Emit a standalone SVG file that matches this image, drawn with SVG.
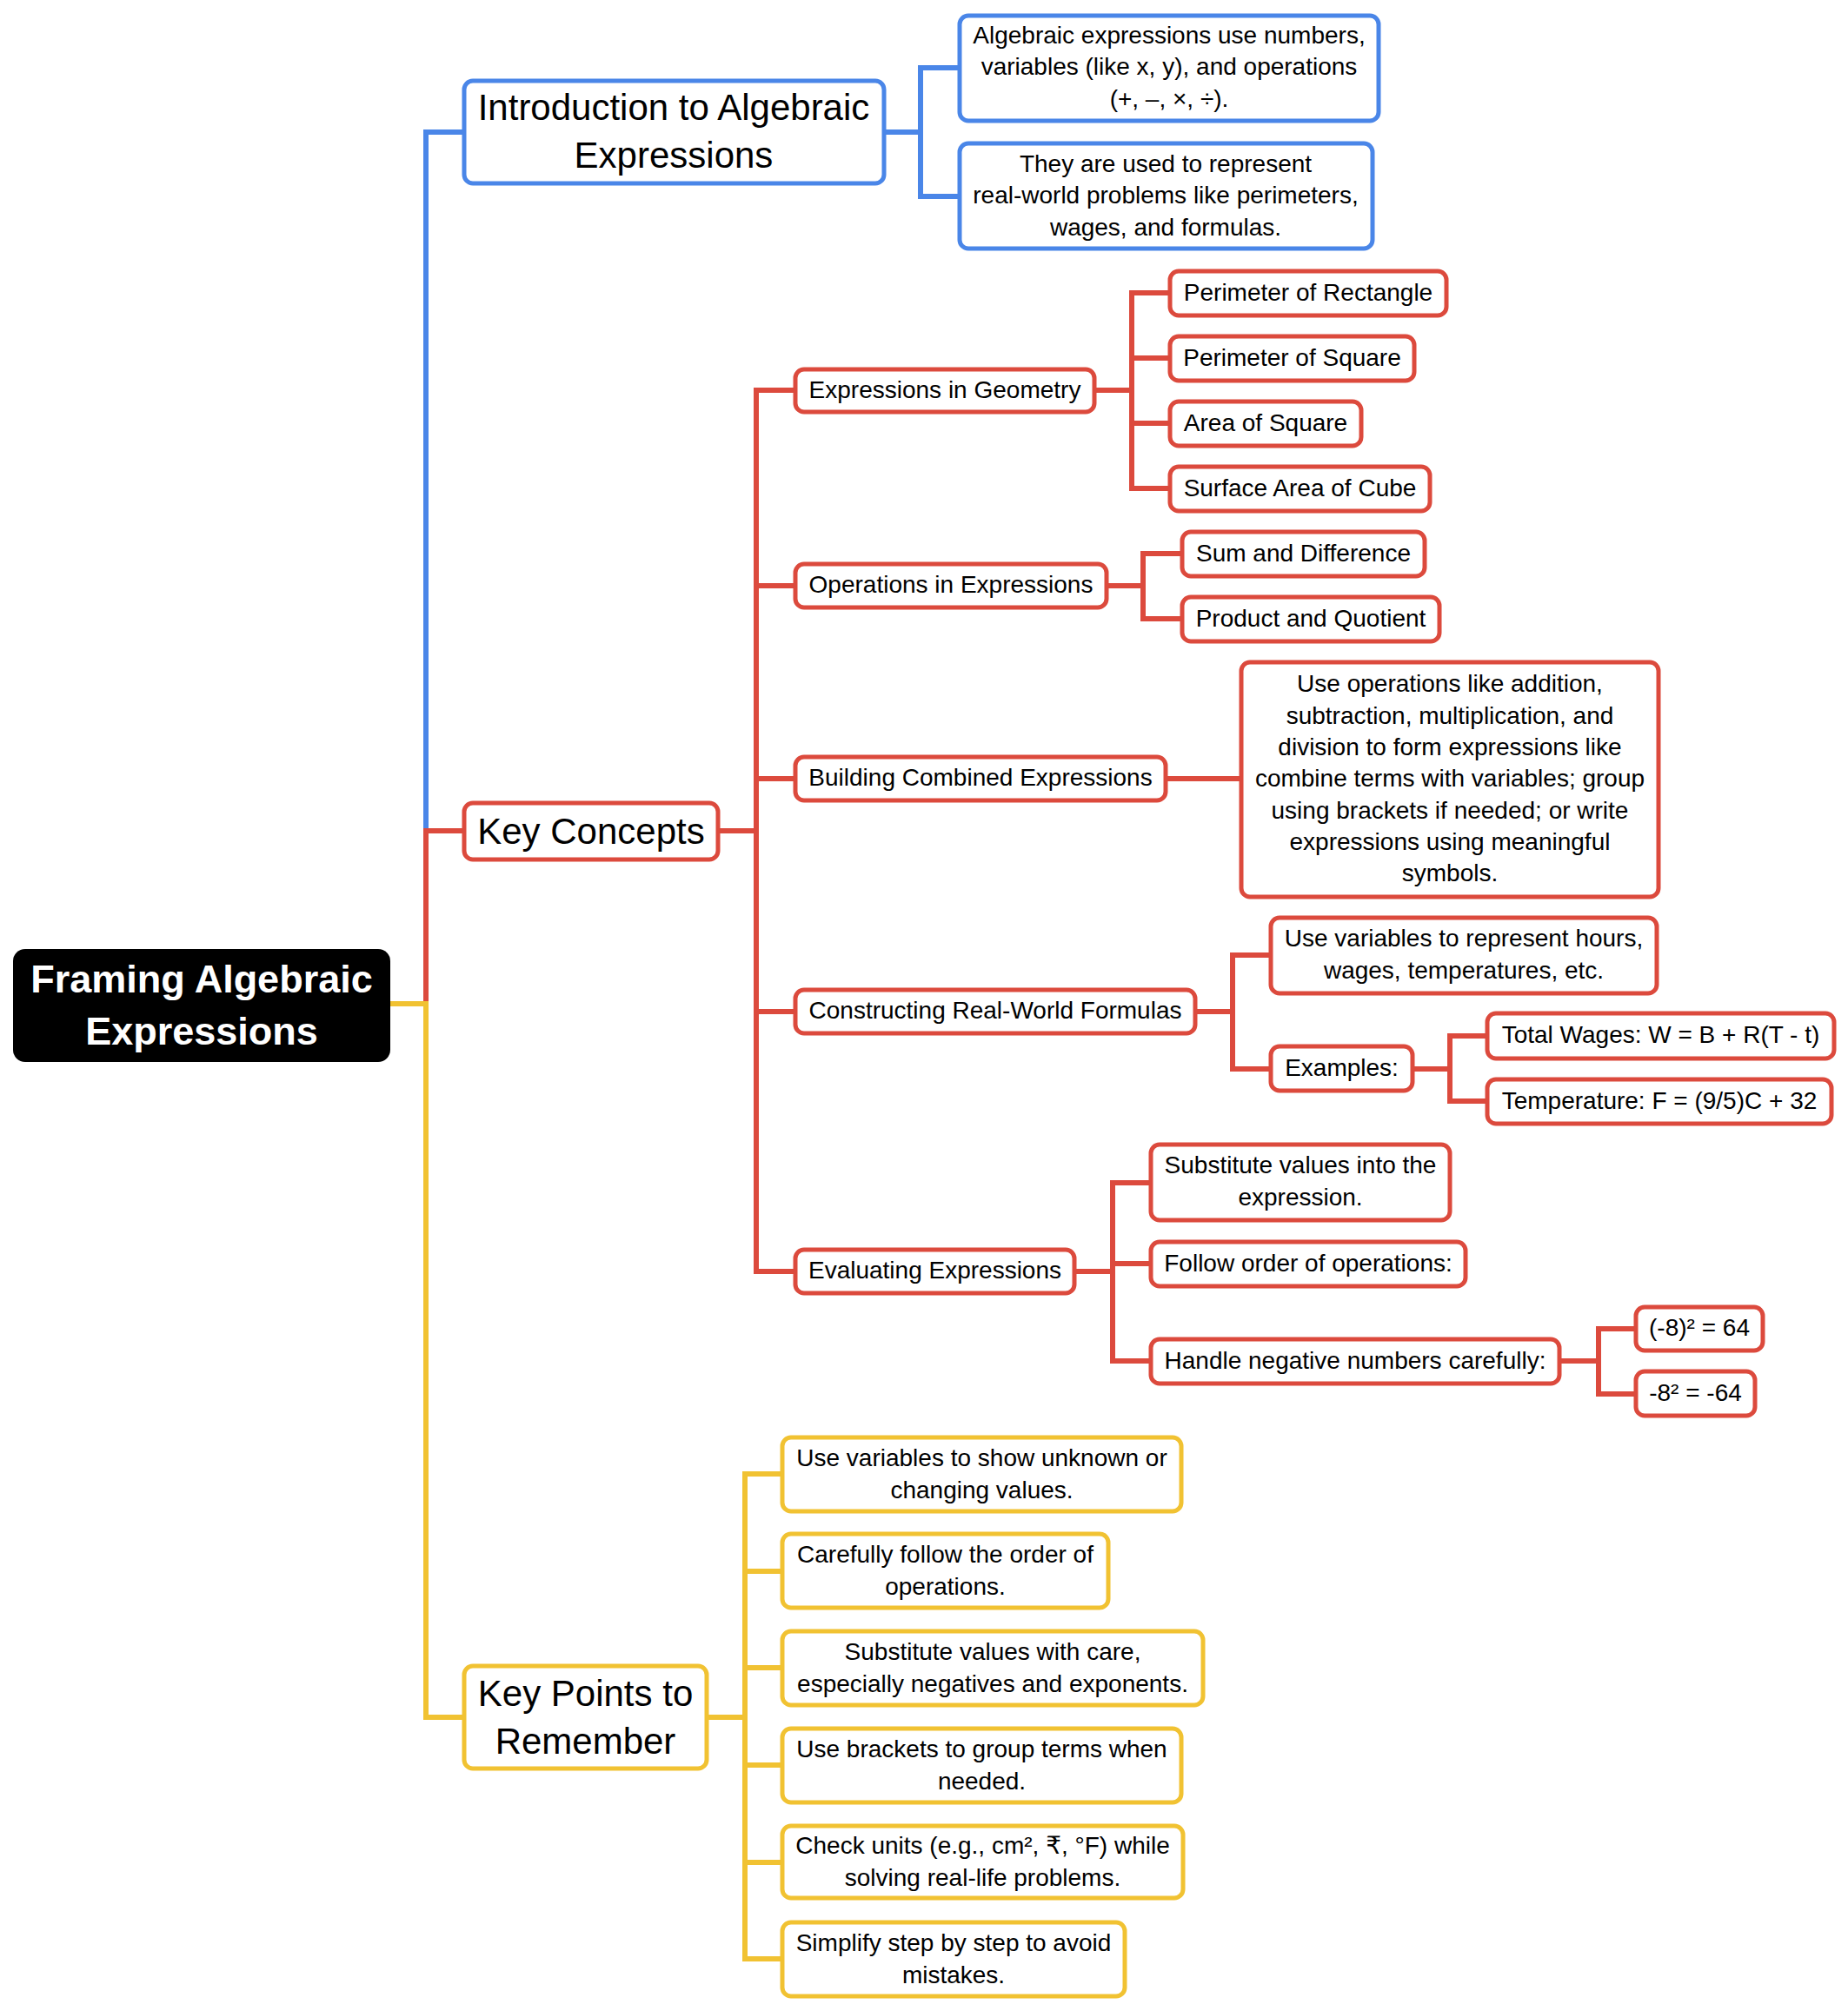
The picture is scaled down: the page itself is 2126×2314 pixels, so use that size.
<svg xmlns="http://www.w3.org/2000/svg" width="2126" height="2314" viewBox="0 0 2126 2314">
<style>
text{font-family:"Liberation Sans",Arial,"DejaVu Sans",sans-serif;fill:#000;text-anchor:middle}
.t{font-size:28px}
.h{font-size:42px}
.r{font-size:45px;font-weight:bold;fill:#fff}
.nb{fill:#fff;stroke:#4a86e8;stroke-width:5}
.nr{fill:#fff;stroke:#dc4a3d;stroke-width:5}
.ny{fill:#fff;stroke:#f1c232;stroke-width:5}
.cb{fill:none;stroke:#4a86e8;stroke-width:6}
.cr{fill:none;stroke:#dc4a3d;stroke-width:6}
.cy{fill:none;stroke:#f1c232;stroke-width:6}
</style>
<rect width="2126" height="2314" fill="#fff"/>
<g id="connectors">
<path class="cb" d="M449,1155 H490 V152 H534"/>
<path class="cr" d="M449,1155 H490 V956 H534"/>
<path class="cy" d="M449,1155 H490 V1976 H534"/>
<path class="cb" d="M1017,152 H1059 V78 H1104 M1059,152 V226 H1104"/>
<path class="cr" d="M826,956 H870 V449 H915 M870,674 H915 M870,896 H915 M870,956 V1463 H915 M870,1164 H915"/>
<path class="cr" d="M1259,449 H1302 V337 H1346 M1302,412 H1346 M1302,487 H1346 M1302,449 V562 H1346"/>
<path class="cr" d="M1273,674 H1315 V637 H1360 M1315,674 V712 H1360"/>
<path class="cr" d="M1341,896 H1428"/>
<path class="cr" d="M1375,1164 H1418 V1099 H1462 M1418,1164 V1230 H1462"/>
<path class="cr" d="M1625,1230 H1668 V1192 H1711 M1668,1230 V1267 H1711"/>
<path class="cr" d="M1236,1463 H1280 V1361 H1324 M1280,1454 H1324 M1280,1463 V1566 H1324"/>
<path class="cr" d="M1794,1566 H1839 V1529 H1882 M1839,1566 V1604 H1882"/>
<path class="cy" d="M813,1976 H857 V1696 H900 M857,1808 H900 M857,1919 H900 M857,1976 V2254 H900 M857,2031 H900 M857,2143 H900"/>
</g>
<g id="root">
<rect x="15" y="1092" width="434" height="130" rx="14" fill="#000"/>
<text class="r" x="232" y="1142">Framing Algebraic</text>
<text class="r" x="232" y="1202">Expressions</text>
</g>
<g id="intro">
<rect class="nb" x="534" y="93" width="483" height="118" rx="10"/>
<text class="h" x="775" y="138">Introduction to Algebraic</text>
<text class="h" x="775" y="193">Expressions</text>
</g>
<g id="intro-1">
<rect class="nb" x="1104" y="18" width="482" height="121" rx="10"/>
<text class="t" x="1345" y="50">Algebraic expressions use numbers,</text>
<text class="t" x="1345" y="86">variables (like x, y), and operations</text>
<text class="t" x="1345" y="122.5">(+, –, ×, ÷).</text>
</g>
<g id="intro-2">
<rect class="nb" x="1104" y="165" width="475" height="121" rx="10"/>
<text class="t" x="1341" y="197.5">They are used to represent</text>
<text class="t" x="1341" y="234">real-world problems like perimeters,</text>
<text class="t" x="1341" y="270.5">wages, and formulas.</text>
</g>
<g id="key-concepts">
<rect class="nr" x="534" y="924" width="292" height="65" rx="10"/>
<text class="h" x="680" y="970.5">Key Concepts</text>
</g>
<g id="geometry">
<rect class="nr" x="915" y="425" width="344" height="49" rx="10"/>
<text class="t" x="1087" y="457.5">Expressions in Geometry</text>
</g>
<g id="perimeter-rectangle">
<rect class="nr" x="1346" y="312" width="318" height="51" rx="10"/>
<text class="t" x="1505" y="345.5">Perimeter of Rectangle</text>
</g>
<g id="perimeter-square">
<rect class="nr" x="1346" y="387" width="281" height="51" rx="10"/>
<text class="t" x="1486.5" y="420.5">Perimeter of Square</text>
</g>
<g id="area-square">
<rect class="nr" x="1346" y="462" width="220" height="51" rx="10"/>
<text class="t" x="1456" y="495.5">Area of Square</text>
</g>
<g id="surface-cube">
<rect class="nr" x="1346" y="537" width="299" height="51" rx="10"/>
<text class="t" x="1495.5" y="570.5">Surface Area of Cube</text>
</g>
<g id="operations">
<rect class="nr" x="915" y="649" width="358" height="50" rx="10"/>
<text class="t" x="1094" y="682">Operations in Expressions</text>
</g>
<g id="sum-difference">
<rect class="nr" x="1360" y="612" width="279" height="51" rx="10"/>
<text class="t" x="1499.5" y="645.5">Sum and Difference</text>
</g>
<g id="product-quotient">
<rect class="nr" x="1360" y="687" width="296" height="51" rx="10"/>
<text class="t" x="1508" y="720.5">Product and Quotient</text>
</g>
<g id="building">
<rect class="nr" x="915" y="871" width="426" height="50" rx="10"/>
<text class="t" x="1128" y="904">Building Combined Expressions</text>
</g>
<g id="building-desc">
<rect class="nr" x="1428" y="762" width="480" height="270" rx="10"/>
<text class="t" x="1668" y="796">Use operations like addition,</text>
<text class="t" x="1668" y="832.5">subtraction, multiplication, and</text>
<text class="t" x="1668" y="869">division to form expressions like</text>
<text class="t" x="1668" y="905">combine terms with variables; group</text>
<text class="t" x="1668" y="941.5">using brackets if needed; or write</text>
<text class="t" x="1668" y="978">expressions using meaningful</text>
<text class="t" x="1668" y="1014">symbols.</text>
</g>
<g id="constructing">
<rect class="nr" x="915" y="1139" width="460" height="50" rx="10"/>
<text class="t" x="1145" y="1172">Constructing Real-World Formulas</text>
</g>
<g id="use-variables">
<rect class="nr" x="1462" y="1056" width="444" height="87" rx="10"/>
<text class="t" x="1684" y="1089">Use variables to represent hours,</text>
<text class="t" x="1684" y="1126">wages, temperatures, etc.</text>
</g>
<g id="examples">
<rect class="nr" x="1462" y="1204" width="163" height="51" rx="10"/>
<text class="t" x="1543.5" y="1237.5">Examples:</text>
</g>
<g id="total-wages">
<rect class="nr" x="1711" y="1166" width="399" height="52" rx="10"/>
<text class="t" x="1910.5" y="1200">Total Wages: W = B + R(T - t)</text>
</g>
<g id="temperature">
<rect class="nr" x="1711" y="1242" width="396" height="51" rx="10"/>
<text class="t" x="1909" y="1275.5">Temperature: F = (9/5)C + 32</text>
</g>
<g id="evaluating">
<rect class="nr" x="915" y="1438" width="321" height="50" rx="10"/>
<text class="t" x="1075.5" y="1471">Evaluating Expressions</text>
</g>
<g id="substitute">
<rect class="nr" x="1324" y="1317" width="344" height="87" rx="10"/>
<text class="t" x="1496" y="1350">Substitute values into the</text>
<text class="t" x="1496" y="1387">expression.</text>
</g>
<g id="follow-order">
<rect class="nr" x="1324" y="1429" width="362" height="51" rx="10"/>
<text class="t" x="1505" y="1462.5">Follow order of operations:</text>
</g>
<g id="handle-negative">
<rect class="nr" x="1324" y="1541" width="470" height="51" rx="10"/>
<text class="t" x="1559" y="1574.5">Handle negative numbers carefully:</text>
</g>
<g id="neg8-squared">
<rect class="nr" x="1882" y="1504" width="146" height="50" rx="10"/>
<text class="t" x="1955" y="1537">(-8)² = 64</text>
</g>
<g id="minus-8-squared">
<rect class="nr" x="1882" y="1578" width="137" height="51" rx="10"/>
<text class="t" x="1950.5" y="1611.5">-8² = -64</text>
</g>
<g id="key-points">
<rect class="ny" x="534" y="1917" width="279" height="118" rx="10"/>
<text class="h" x="673.5" y="1962.5">Key Points to</text>
<text class="h" x="673.5" y="2017.5">Remember</text>
</g>
<g id="kp-1">
<rect class="ny" x="900" y="1654" width="459" height="85" rx="10"/>
<text class="t" x="1129.5" y="1687">Use variables to show unknown or</text>
<text class="t" x="1129.5" y="1724">changing values.</text>
</g>
<g id="kp-2">
<rect class="ny" x="900" y="1765" width="375" height="85" rx="10"/>
<text class="t" x="1087.5" y="1798">Carefully follow the order of</text>
<text class="t" x="1087.5" y="1835">operations.</text>
</g>
<g id="kp-3">
<rect class="ny" x="900" y="1877" width="484" height="85" rx="10"/>
<text class="t" x="1142" y="1910">Substitute values with care,</text>
<text class="t" x="1142" y="1947">especially negatives and exponents.</text>
</g>
<g id="kp-4">
<rect class="ny" x="900" y="1989" width="459" height="85" rx="10"/>
<text class="t" x="1129.5" y="2022">Use brackets to group terms when</text>
<text class="t" x="1129.5" y="2059">needed.</text>
</g>
<g id="kp-5">
<rect class="ny" x="900" y="2101" width="461" height="83" rx="10"/>
<text class="t" x="1130.5" y="2133">Check units (e.g., cm², ₹, °F) while</text>
<text class="t" x="1130.5" y="2170">solving real-life problems.</text>
</g>
<g id="kp-6">
<rect class="ny" x="900" y="2212" width="394" height="85" rx="10"/>
<text class="t" x="1097" y="2245">Simplify step by step to avoid</text>
<text class="t" x="1097" y="2282">mistakes.</text>
</g>
</svg>
